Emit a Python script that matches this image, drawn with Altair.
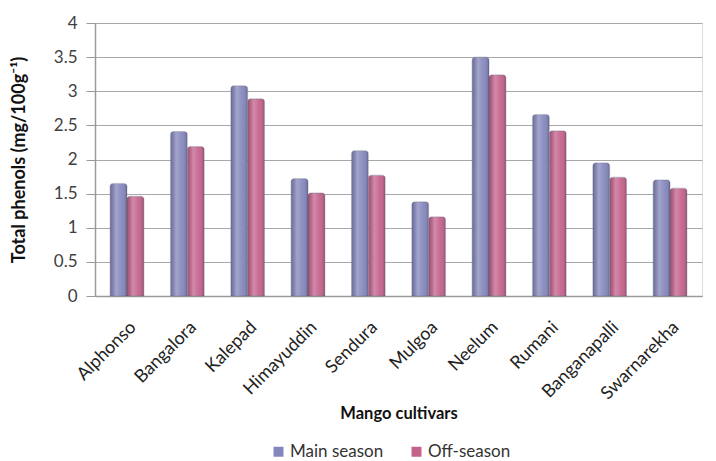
import altair as alt
import pandas as pd

cultivars = ["Alphonso", "Bangalora", "Kalepad", "Himayuddin", "Sendura",
             "Mulgoa", "Neelum", "Rumani", "Banganapalli", "Swarnarekha"]
main_season = [1.65, 2.41, 3.08, 1.72, 2.13, 1.38, 3.50, 2.66, 1.95, 1.70]
off_season = [1.46, 2.19, 2.89, 1.51, 1.77, 1.16, 3.24, 2.42, 1.74, 1.58]
series = ["Main season", "Off-season"]
colors = ["#8487BC", "#C4628C"]

rows = []
for c, m, o in zip(cultivars, main_season, off_season):
    rows.append({"cultivar": c, "series": series[0], "value": m})
    rows.append({"cultivar": c, "series": series[1], "value": o})
df = pd.DataFrame(rows)

font = "Lato"

x_enc = alt.X("cultivar:N", sort=cultivars,
              scale=alt.Scale(paddingInner=0.44, paddingOuter=0.25),
              axis=alt.Axis(title="Mango cultivars", labelAngle=-45, labelFontSize=18,
                            labelColor="#222222", labelFont=font, labelPadding=22,
                            titleFont=font, titleFontSize=16.5, titleFontWeight="bold",
                            titleColor="#111111", titlePadding=3, ticks=False,
                            domainColor="#9a9a9a", domainWidth=1.5))
xo_enc = alt.XOffset("series:N", scale=alt.Scale(domain=series, paddingInner=0, paddingOuter=0))
y_enc = alt.Y("value:Q",
              scale=alt.Scale(domain=[0, 4]),
              axis=alt.Axis(title="Total phenols  (mg/100g⁻¹)", values=[0, 0.5, 1, 1.5, 2, 2.5, 3, 3.5, 4],
                            format="~g",
                            labelFontSize=17, labelFont=font, labelColor="#404040",
                            labelPadding=9, tickSize=9, tickColor="#9a9a9a",
                            domainColor="#9a9a9a", domainWidth=1.5,
                            gridColor="#a8a8a8", gridWidth=1.2,
                            titleFont=font, titleFontSize=18, titleFontWeight="bold",
                            titleColor="#111111", titlePadding=25))

bars = alt.Chart(df).mark_bar(stroke="#6d6d8a", strokeWidth=0.4, cornerRadiusTopLeft=3,
                              cornerRadiusTopRight=3).encode(
    x=x_enc, xOffset=xo_enc, y=y_enc,
    color=alt.Color("series:N", scale=alt.Scale(domain=series, range=colors),
                    legend=alt.Legend(title=None, orient="none", direction="horizontal",
                                      legendX=175, legendY=420,
                                      labelFont=font, labelFontSize=17, labelColor="#333333",
                                      labelOffset=3,
                                      symbolType="square", symbolSize=100, columnPadding=24,
                                      symbolStrokeWidth=0))
)

shade = alt.Chart(df).mark_bar(
    cornerRadiusTopLeft=3, cornerRadiusTopRight=3,
    color=alt.Gradient(gradient="linear", x1=0, x2=1, y1=0, y2=0,
                       stops=[alt.GradientStop(offset=0, color="rgba(0,0,0,0.18)"),
                              alt.GradientStop(offset=0.35, color="rgba(255,255,255,0.25)"),
                              alt.GradientStop(offset=0.7, color="rgba(255,255,255,0.05)"),
                              alt.GradientStop(offset=1, color="rgba(0,0,0,0.22)")])
).encode(x=x_enc, xOffset=xo_enc, y=y_enc)

chart = alt.layer(bars, shade).properties(
    width=607, height=273,
    padding={"left": 2, "top": 6, "right": 5, "bottom": 5}
).configure_view(stroke=None).configure(background="white")

chart.save("out.html", embed_options={"renderer": "svg", "actions": False})
